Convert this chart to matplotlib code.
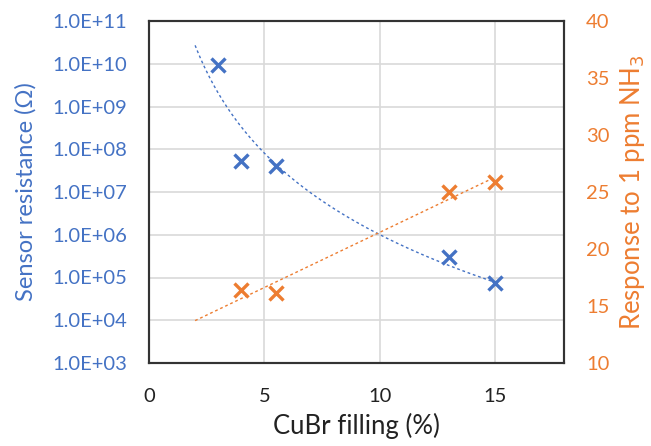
import numpy as np
import matplotlib
matplotlib.use("Agg")
import matplotlib.pyplot as plt
from matplotlib.ticker import FuncFormatter, FixedLocator

plt.rcParams['font.family'] = ['Lato', 'DejaVu Sans']

# ── Data ──────────────────────────────────────────────────────────────────
res_filling = [3, 4, 5.5, 13, 15]
resistance = [9.5e9, 5.3e7, 4.1e7, 3.0e5, 7.4e4]

resp_filling = [4, 5.5, 13, 15]
response = [16.4, 16.1, 25.0, 25.9]

BLUE = '#4472C4'
ORANGE = '#ED7D31'

# ── Figure ────────────────────────────────────────────────────────────────
fig = plt.figure(figsize=(6.51, 4.46), dpi=100)
ax = fig.add_axes([149 / 651, 83 / 446, 415 / 651, 342 / 446])
ax2 = ax.twinx()

# trendlines (Excel-style: power fit for resistance, linear for response)
xt = np.linspace(2, 15, 200)
b, a = np.polyfit(np.log10(res_filling), np.log10(resistance), 1)
ax.plot(xt, 10 ** (a + b * np.log10(xt)), color=BLUE, lw=1,
        linestyle=(0, (2, 2)), zorder=2)
m, c = np.polyfit(resp_filling, response, 1)
ax2.plot(xt, m * xt + c, color=ORANGE, lw=1, linestyle=(0, (2, 2)), zorder=2)

ax.plot(res_filling, resistance, linestyle='none', marker='x', ms=10,
        mew=2.4, color=BLUE, zorder=3)
ax2.plot(resp_filling, response, linestyle='none', marker='x', ms=10,
         mew=2.4, color=ORANGE, zorder=3)

# ── Axes ──────────────────────────────────────────────────────────────────
ax.set_xlim(0, 18)
ax.set_yscale('log')
ax.set_ylim(1e3, 1e11)
ax.yaxis.set_major_locator(FixedLocator([10.0 ** k for k in range(3, 12)]))
ax.yaxis.set_minor_locator(FixedLocator([]))
ax.yaxis.set_major_formatter(FuncFormatter(lambda v, p: f"{v:.1E}"))
ax.set_xticks([0, 5, 10, 15])
ax2.set_ylim(10, 40)
ax2.set_yticks(range(10, 41, 5))

ax.grid(True, color='#d9d9d9', lw=1.2)
ax.set_axisbelow(True)

for a_ in (ax, ax2):
    for s in a_.spines.values():
        s.set_color('#333333')
        s.set_linewidth(1.5)

ax.tick_params(axis='both', length=0, labelsize=14.5)
ax.tick_params(axis='y', colors=BLUE, pad=16)
ax2.tick_params(axis='y', length=0, labelsize=14.5, colors=ORANGE, pad=16)
ax.tick_params(axis='x', colors='#222222', pad=18)

ax.set_xlabel("CuBr filling (%)", fontsize=18.5, color='#222222', labelpad=6)
ax.set_ylabel("Sensor resistance (Ω)", fontsize=17, color=BLUE, labelpad=11)
ax2.set_ylabel("Response to 1 ppm NH$_3$", fontsize=18.5, color=ORANGE,
               labelpad=6)

plt.savefig("out.png", dpi=100)
